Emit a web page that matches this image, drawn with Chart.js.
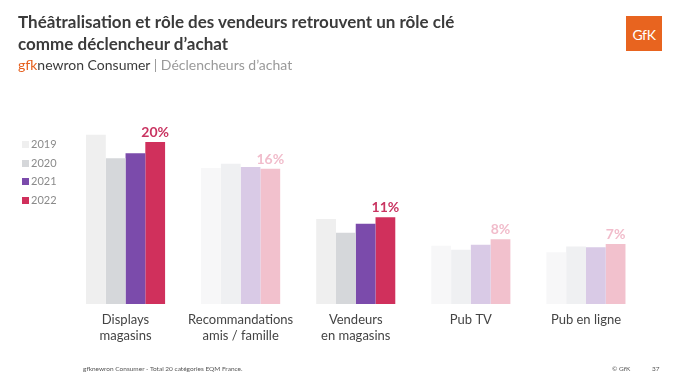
<!DOCTYPE html>
<html lang="fr">
<head>
<meta charset="utf-8">
<script src="https://cdn.jsdelivr.net/npm/chart.js@4.4.1/dist/chart.umd.min.js"></script>
<style>
  html, body { margin: 0; padding: 0; background: #ffffff; }
  body { width: 680px; height: 381px; position: relative; overflow: hidden; font-family: Lato, "Open Sans", sans-serif; }
  #wrap { position: absolute; left: 0; top: 0; width: 680px; height: 381px; }
  .title { position: absolute; left: 18px; top: 11px; font-size: 17px; font-weight: 700; color: #3b3b3b; line-height: 21.5px; }
  .sub { position: absolute; left: 18px; top: 56px; font-size: 14px; color: #9a9a9a; }
  .sub .g { color: #e6601e; }
  .sub .n { color: #3b3b3b; }
  .logo { position: absolute; left: 626px; top: 16px; width: 36px; height: 35px; background: #e8641f; color: #fff; font-size: 14px; font-weight: 400; text-align: center; line-height: 38px; letter-spacing: -0.3px; }
  .legend { position: absolute; left: 22px; top: 136px; }
  .legend div { height: 18.5px; font-size: 11px; color: #8a8a8a; line-height: 16px; }
  .legend span { display: inline-block; width: 7px; height: 7px; margin-right: 2px; vertical-align: 0px; }
  .foot { position: absolute; top: 365px; font-size: 6.5px; color: #555; }
</style>
</head>
<body>
<div id="wrap"><canvas id="c" width="680" height="381"></canvas></div>
<div class="title">Théâtralisation et rôle des vendeurs retrouvent un rôle clé<br>comme déclencheur d’achat</div>
<div class="sub"><span class="g">gfk</span><span class="n">newron Consumer</span> | Déclencheurs d’achat</div>
<div class="logo">GfK</div>
<div class="legend" id="legend"></div>
<div class="foot" style="left:83px">gfknewron Consumer - Total 20 catégories EQM France.</div>
<div class="foot" style="left:612px">© GfK</div>
<div class="foot" style="left:652px">37</div>
<script>
// ---- data ----
const categories = [["Displays", "magasins"], ["Recommandations", "amis / famille"], ["Vendeurs", "en magasins"], ["Pub TV"], ["Pub en ligne"]];
const years = ["2019", "2020", "2021", "2022"];
const values2019 = [20.9, 16.8, 10.5, 7.2, 6.4];
const values2020 = [18.0, 17.3, 8.8, 6.7, 7.1];
const values2021 = [18.6, 16.9, 9.9, 7.3, 7.0];
const values2022 = [20.0, 16.7, 10.7, 8.0, 7.4];
const labels2022 = ["20%", "16%", "11%", "8%", "7%"];
const highlighted = [true, false, true, false, false];

// ---- styles ----
const strongColors = ["#efefef", "#d5d7da", "#7b4bab", "#d0305c"];
const fadedColors = ["#f7f7f8", "#eff0f2", "#d9cae6", "#f2c1cd"];
const labelStrong = "#c93461";
const labelFaded = "#f1bccb";

const series = [values2019, values2020, values2021, values2022];
const datasets = series.map((vals, i) => ({
  label: years[i],
  data: vals,
  backgroundColor: highlighted.map(h => h ? strongColors[i] : fadedColors[i]),
  borderWidth: 0,
  categoryPercentage: 0.687,
  barPercentage: 1.0
}));

const legendEl = document.getElementById('legend');
years.forEach((y, i) => {
  const d = document.createElement('div');
  d.innerHTML = '<span style="background:' + strongColors[i] + '"></span>' + y;
  legendEl.appendChild(d);
});

const valueLabels = {
  id: 'valueLabels',
  afterDatasetsDraw(chart) {
    const ctx = chart.ctx;
    const meta = chart.getDatasetMeta(3);
    ctx.save();
    ctx.font = 'bold 14px Lato, sans-serif';
    ctx.textAlign = 'center';
    ctx.textBaseline = 'alphabetic';
    meta.data.forEach((bar, i) => {
      ctx.fillStyle = highlighted[i] ? labelStrong : labelFaded;
      ctx.fillText(labels2022[i], bar.x, bar.y - 5);
    });
    ctx.restore();
  }
};

new Chart(document.getElementById('c'), {
  type: 'bar',
  data: { labels: categories, datasets },
  options: {
    responsive: false,
    animation: false,
    layout: { padding: { left: 68, right: 36.5, top: 101.5, bottom: 0 } },
    plugins: { legend: { display: false }, tooltip: { enabled: false } },
    scales: {
      x: {
        grid: { display: false, drawTicks: false },
        border: { display: false },
        ticks: { color: '#444', font: { family: 'Lato', size: 13 }, padding: 8, maxRotation: 0, autoSkip: false },
        afterFit(s) { s.height = 77; }
      },
      y: { display: false, min: 0, max: 25 }
    }
  },
  plugins: [valueLabels]
});
</script>
</body>
</html>
